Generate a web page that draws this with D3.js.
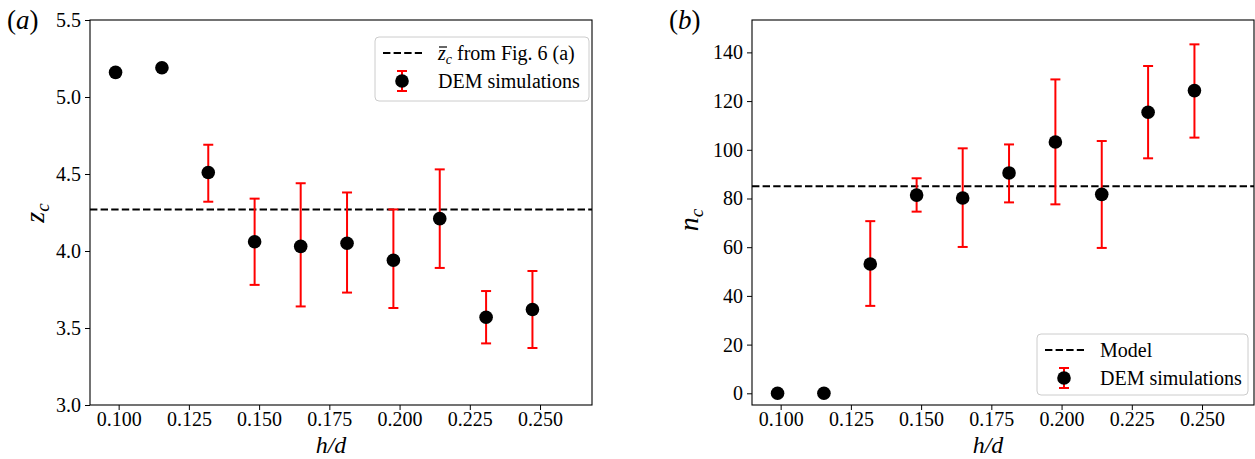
<!DOCTYPE html>
<html>
<head>
<meta charset="utf-8">
<script src="https://cdn.jsdelivr.net/npm/d3@7"></script>
<style>
  html, body { margin: 0; padding: 0; background: #fff; }
  svg { display: block; }
  text { font-family: "Liberation Serif", "DejaVu Serif", serif; fill: #000; }
</style>
</head>
<body>
<svg id="fig" width="1255" height="459"></svg>
<script>
// h/d values shared by both panels
const hd = [0.0989, 0.1154, 0.1319, 0.1484, 0.1648, 0.1813, 0.1978, 0.2143, 0.2308, 0.2473];

// (a) critical height z_c
const zc     = [5.16, 5.19, 4.51, 4.06, 4.03, 4.05, 3.94, 4.21, 3.57, 3.62];
const zcLow  = [null, null, 4.32, 3.78, 3.64, 3.73, 3.63, 3.89, 3.40, 3.37];
const zcHigh = [null, null, 4.69, 4.34, 4.44, 4.38, 4.27, 4.53, 3.74, 3.87];
const zcRef  = 4.27;

// (b) n_c
const nc     = [0, 0, 53.1, 81.4, 80.2, 90.5, 103.2, 81.7, 115.4, 124.3];
const ncLow  = [null, null, 35.9, 74.6, 60.1, 78.4, 77.6, 59.7, 96.5, 105.0];
const ncHigh = [null, null, 70.7, 88.3, 100.6, 102.2, 128.9, 103.6, 134.4, 143.3];
const ncRef  = 85;

const xTicks  = [0.100, 0.125, 0.150, 0.175, 0.200, 0.225, 0.250];
const zcTicks = [3.0, 3.5, 4.0, 4.5, 5.0, 5.5];
const ncTicks = [0, 20, 40, 60, 80, 100, 120, 140];

const svg = d3.select("#fig");
const TICK_FONT = 20;
const SERIF = "Liberation Serif";

function panel(opts) {
  const { left, right, top, bottom, xDomain, yDomain, yTicks, yFmt, vals, lo, hi, ref } = opts;
  const x = d3.scaleLinear().domain(xDomain).range([left, right]);
  const y = d3.scaleLinear().domain(yDomain).range([bottom, top]);
  const g = svg.append("g");

  // reference line
  g.append("line")
    .attr("x1", left).attr("x2", right)
    .attr("y1", y(ref)).attr("y2", y(ref))
    .attr("stroke", "#000").attr("stroke-width", 2)
    .attr("stroke-dasharray", "7.4,3.2");

  const pts = hd.map((h, i) => ({ h, v: vals[i], lo: lo[i], hi: hi[i] }));
  const eb = pts.filter(d => d.lo != null);

  // error bars
  const bars = g.append("g").attr("stroke", "#ff0000").attr("stroke-width", 2);
  bars.selectAll("line.stem").data(eb).join("line")
    .attr("x1", d => x(d.h)).attr("x2", d => x(d.h))
    .attr("y1", d => y(d.lo)).attr("y2", d => y(d.hi));
  bars.selectAll("line.capTop").data(eb).join("line")
    .attr("x1", d => x(d.h) - 5).attr("x2", d => x(d.h) + 5)
    .attr("y1", d => y(d.hi)).attr("y2", d => y(d.hi));
  bars.selectAll("line.capBot").data(eb).join("line")
    .attr("x1", d => x(d.h) - 5).attr("x2", d => x(d.h) + 5)
    .attr("y1", d => y(d.lo)).attr("y2", d => y(d.lo));

  // markers
  g.append("g").selectAll("circle").data(pts).join("circle")
    .attr("cx", d => x(d.h)).attr("cy", d => y(d.v)).attr("r", 6.8)
    .attr("fill", "#000");

  // axes
  const xa = g.append("g").attr("transform", `translate(0,${bottom})`)
    .call(d3.axisBottom(x).tickValues(xTicks).tickFormat(d3.format(".3f")).tickSize(5).tickPadding(2));
  const ya = g.append("g").attr("transform", `translate(${left},0)`)
    .call(d3.axisLeft(y).tickValues(yTicks).tickFormat(yFmt).tickSize(5).tickPadding(4));
  [xa, ya].forEach(a => {
    a.attr("font-family", SERIF).attr("font-size", TICK_FONT);
    a.select(".domain").remove();
    a.selectAll("line").attr("stroke", "#000").attr("stroke-width", 1);
    a.selectAll("text").attr("font-size", TICK_FONT).style("font-family", SERIF);
  });

  // frame
  g.append("rect")
    .attr("x", left).attr("y", top)
    .attr("width", right - left).attr("height", bottom - top)
    .attr("fill", "none").attr("stroke", "#000").attr("stroke-width", 1.1);

  return { x, y, g };
}

const A = panel({
  left: 90, right: 592, top: 20, bottom: 405,
  xDomain: [0.0898, 0.2685], yDomain: [3.0, 5.5],
  yTicks: zcTicks, yFmt: d3.format(".1f"),
  vals: zc, lo: zcLow, hi: zcHigh, ref: zcRef
});
const B = panel({
  left: 752, right: 1254, top: 20, bottom: 405,
  xDomain: [0.0898, 0.2685], yDomain: [-4.8, 153.3],
  yTicks: ncTicks, yFmt: d3.format("d"),
  vals: nc, lo: ncLow, hi: ncHigh, ref: ncRef
});

// axis titles
function hdLabel(cx) {
  svg.append("text").attr("x", cx).attr("y", 453)
    .attr("text-anchor", "middle").attr("font-size", 24).attr("font-style", "italic")
    .text("h/d");
}
hdLabel(331);
hdLabel(988);

function subLabel(x, y, main, sub) {
  const t = svg.append("text")
    .attr("transform", `translate(${x},${y}) rotate(-90)`)
    .attr("text-anchor", "middle").attr("font-size", 28).attr("font-style", "italic");
  t.append("tspan").text(main);
  t.append("tspan").attr("font-size", 19).attr("dy", 5).text(sub);
}
subLabel(44, 213, "z", "c");
subLabel(698, 220, "n", "c");

// panel tags
function tag(x, txt) {
  const t = svg.append("text").attr("x", x).attr("y", 29).attr("font-size", 27);
  t.append("tspan").text("(");
  t.append("tspan").attr("font-style", "italic").text(txt);
  t.append("tspan").text(")");
}
tag(7, "a");
tag(669, "b");

// legends
function legend(bx, by, bw, bh, firstLabel) {
  const g = svg.append("g");
  g.append("rect").attr("x", bx).attr("y", by).attr("width", bw).attr("height", bh)
    .attr("rx", 4).attr("fill", "#fff").attr("fill-opacity", 0.8)
    .attr("stroke", "#cccccc").attr("stroke-width", 1);
  const r1 = by + 16, r2 = by + 44;
  g.append("line").attr("x1", bx + 8).attr("x2", bx + 47).attr("y1", r1).attr("y2", r1)
    .attr("stroke", "#000").attr("stroke-width", 2).attr("stroke-dasharray", "7.4,3.2");
  const mx = bx + 27;
  g.append("line").attr("x1", mx).attr("x2", mx).attr("y1", r2 - 10).attr("y2", r2 + 10)
    .attr("stroke", "#ff0000").attr("stroke-width", 2);
  [r2 - 10, r2 + 10].forEach(yy => g.append("line")
    .attr("x1", mx - 5).attr("x2", mx + 5).attr("y1", yy).attr("y2", yy)
    .attr("stroke", "#ff0000").attr("stroke-width", 2));
  g.append("circle").attr("cx", mx).attr("cy", r2).attr("r", 6.8).attr("fill", "#000");
  const tx = bx + 63;
  firstLabel(g, tx, r1 + 7);
  g.append("text").attr("x", tx).attr("y", r2 + 7).attr("font-size", 20).text("DEM simulations");
}

legend(375, 37, 214, 64, (g, tx, ty) => {
  const t = g.append("text").attr("x", tx).attr("y", ty).attr("font-size", 20);
  t.append("tspan").attr("font-style", "italic").text("z");
  t.append("tspan").attr("font-style", "italic").attr("font-size", 14).attr("dy", 4).text("c");
  t.append("tspan").attr("dy", -4).text(" from Fig. 6 (a)");
  // overbar on z
  g.append("line").attr("x1", tx + 1).attr("x2", tx + 9).attr("y1", ty - 13).attr("y2", ty - 13)
    .attr("stroke", "#000").attr("stroke-width", 1.2);
});

legend(1037, 334, 211, 61, (g, tx, ty) => {
  g.append("text").attr("x", tx).attr("y", ty).attr("font-size", 20).text("Model");
});
</script>
</body>
</html>
